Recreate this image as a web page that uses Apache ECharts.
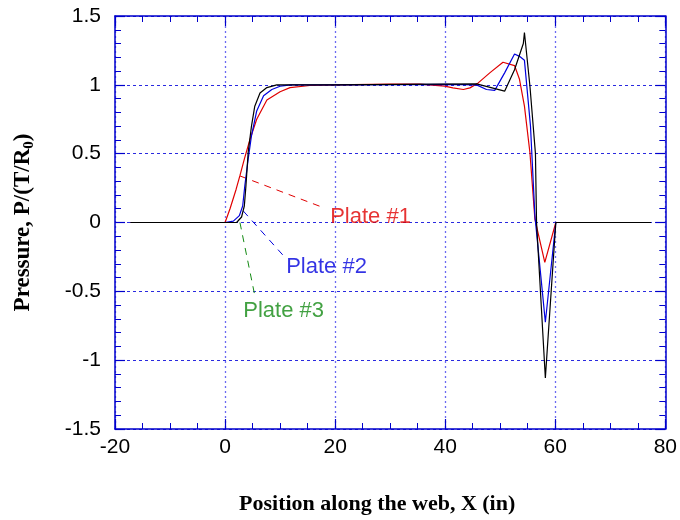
<!DOCTYPE html>
<html>
<head>
<meta charset="utf-8">
<script src="https://cdn.jsdelivr.net/npm/echarts@6/dist/echarts.min.js"></script>
<style>
  html, body { margin: 0; padding: 0; background: #fff; }
  #chart { width: 680px; height: 520px; }
</style>
</head>
<body>
<div id="chart"></div>
<script>
// plate #1 (red)
const plate1X = [-17.2, 0, 0.9, 2, 2.7, 3.5, 4.5, 5.75, 7.6, 10, 11.8, 15.4, 20, 30, 35.4, 39.9, 41.4, 43.3, 44.5, 46, 48.1, 50.5, 52.6, 53.5, 54.4, 55.4, 56.3, 58.1, 60.1, 77.4];
const plate1Y = [0, 0, 0.1, 0.24, 0.34, 0.46, 0.6, 0.75, 0.89, 0.95, 0.98, 0.995, 1, 1.005, 1.005, 0.99, 0.978, 0.966, 0.978, 1.014, 1.087, 1.164, 1.14, 1.04, 0.845, 0.507, 0.024, -0.29, 0, 0];

// plate #2 (blue)
const plate2X = [-17.2, 0, 1.5, 2.6, 3.2, 3.6, 4.2, 4.8, 5.75, 7, 8.5, 10, 12, 20, 40.2, 45.7, 47.5, 49, 50.8, 52.6, 53.5, 54.4, 55.5, 56.3, 58.2, 60.1, 77.4];
const plate2Y = [0, 0, 0.01, 0.05, 0.12, 0.27, 0.46, 0.63, 0.81, 0.92, 0.966, 0.99, 1, 1, 1.004, 1.0, 0.966, 0.96, 1.087, 1.224, 1.207, 1.178, 0.7, 0.05, -0.725, 0, 0];

// plate #3 (black)
const plate3X = [-17.2, 0, 2.1, 3, 3.5, 3.8, 4.2, 4.8, 5.4, 6.35, 7.6, 9.4, 20, 45.7, 50.8, 52.6, 54.2, 54.4, 55.4, 56.4, 56.6, 58.2, 60.1, 77.4];
const plate3Y = [0, 0, 0, 0.04, 0.12, 0.27, 0.51, 0.7, 0.845, 0.94, 0.98, 1.0, 1, 1.007, 0.954, 1.11, 1.30, 1.38, 0.99, 0.5, 0, -1.13, 0, 0];

// labels and leader lines
const labelNames = ['Plate #1', 'Plate #2', 'Plate #3'];
const labelX = [19.1, 11.1, 3.3];
const labelY = [0.04, -0.324, -0.64];
const leader1 = [[2.72, 0.338], [17.8, 0.109]];
const leader2 = [[3.3, 0.084], [10.9, -0.254]];
const leader3 = [[2.7, 0], [5.4, -0.53]];

const xTicks = { min: -20, max: 80, interval: 20 };
const yTicks = { min: -1.5, max: 1.5, interval: 0.5 };

const frameBlue = '#0000cc';
const colors = ['#e00000', '#0000dd', '#000000', '#138a13'];

function zip(xs, ys) {
  return xs.map((x, i) => [x, ys[i]]);
}

let chart = echarts.init(document.getElementById('chart'), null, { renderer: 'canvas' });

const tickStyle = { show: true, inside: true, length: 10, lineStyle: { color: frameBlue, width: 1.2 } };
const minorStyle = { show: true, length: 6, lineStyle: { color: frameBlue, width: 1 } };
const lineFrame = { show: true, onZero: false, lineStyle: { color: frameBlue, width: 1.5 } };

function curve(data, color) {
  return {
    type: 'line',
    data,
    showSymbol: false,
    symbol: 'none',
    lineStyle: { color, width: 1.2 },
    z: 3
  };
}

function leader(data, color) {
  return {
    type: 'line',
    data,
    showSymbol: false,
    symbol: 'none',
    lineStyle: { color, width: 1, type: [7, 6] },
    z: 2
  };
}

const nameFont = 'Liberation Serif, Times New Roman';

let option = {
  backgroundColor: '#ffffff',
  animation: false,
  grid: { left: 115, right: 14, top: 16, bottom: 90 },
  xAxis: [
    {
      type: 'value',
      min: xTicks.min, max: xTicks.max, interval: xTicks.interval,
      axisLine: lineFrame,
      axisTick: tickStyle,
      minorTick: Object.assign({ splitNumber: 4 }, minorStyle),
      splitLine: { show: true, lineStyle: { color: '#6a6af2', width: 1.3, type: [2, 3] } },
      axisLabel: { color: '#000', fontFamily: 'Liberation Sans, Arial', fontSize: 21, margin: 8 },
      name: 'Position along the web, X (in)',
      nameLocation: 'middle',
      nameGap: 64,
      nameTextStyle: { color: '#000', fontFamily: nameFont, fontWeight: 'bold', fontSize: 22, padding: [0, 26, 0, 0] }
    },
    {
      type: 'value', position: 'top',
      min: xTicks.min, max: xTicks.max, interval: xTicks.interval,
      axisLine: lineFrame,
      axisTick: tickStyle,
      minorTick: Object.assign({ splitNumber: 4 }, minorStyle),
      splitLine: { show: false },
      axisLabel: { show: false }
    }
  ],
  yAxis: [
    {
      type: 'value',
      min: yTicks.min, max: yTicks.max, interval: yTicks.interval,
      axisLine: lineFrame,
      axisTick: tickStyle,
      minorTick: Object.assign({ splitNumber: 5 }, minorStyle),
      splitLine: { show: true, lineStyle: { color: '#2a2ae0', width: 1, type: [3, 3] } },
      axisLabel: { color: '#000', fontFamily: 'Liberation Sans, Arial', fontSize: 21, margin: 14 },
      name: '{n|Pressure, P/(T/R}{s|0}{n|)}',
      nameLocation: 'middle',
      nameGap: 78,
      nameTextStyle: {
        rich: {
          n: { color: '#000', fontFamily: nameFont, fontWeight: 'bold', fontSize: 23 },
          s: { color: '#000', fontFamily: nameFont, fontWeight: 'bold', fontSize: 15, padding: [12, 0, 0, 0] }
        }
      }
    },
    {
      type: 'value', position: 'right',
      min: yTicks.min, max: yTicks.max, interval: yTicks.interval,
      axisLine: lineFrame,
      axisTick: tickStyle,
      minorTick: Object.assign({ splitNumber: 5 }, minorStyle),
      splitLine: { show: false },
      axisLabel: { show: false }
    }
  ],
  series: [
    leader(leader1, colors[0]),
    leader(leader2, colors[1]),
    leader(leader3, colors[3]),
    curve(zip(plate1X, plate1Y), colors[0]),
    curve(zip(plate2X, plate2Y), colors[1]),
    curve(zip(plate3X, plate3Y), colors[2]),
    {
      type: 'scatter',
      symbolSize: 0,
      data: labelNames.map((n, i) => ({
        name: n,
        value: [labelX[i], labelY[i]],
        label: { color: [colors[0], colors[1], colors[3]][i] }
      })),
      label: {
        show: true,
        position: 'right',
        distance: 0,
        formatter: p => p.name,
        fontFamily: 'Liberation Sans, Arial',
        fontSize: 22
      },
      z: 4
    }
  ]
};

chart.setOption(option);
</script>
</body>
</html>
